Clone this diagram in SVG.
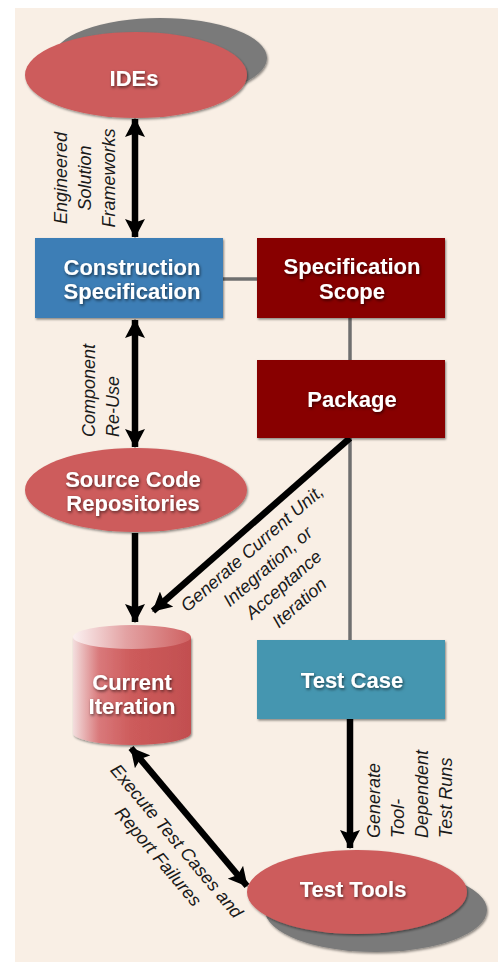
<svg xmlns="http://www.w3.org/2000/svg" width="498" height="963" viewBox="0 0 498 963">
  <defs>
    <style>
      .title { font-family: "Liberation Sans", Arial, sans-serif; font-weight: bold; font-size: 22px; fill: #ffffff; text-anchor: middle; filter: url(#txtShadow); }
      .label { font-family: "Liberation Sans", Arial, sans-serif; font-style: italic; font-size: 18px; fill: #1a1a1a; }
      .red { fill: #cd5b5b; }
      .shade { fill: #7a7a7a; }
      .link { stroke: #6f6f6f; stroke-width: 3.5; fill: none; }
      .flow { stroke: #000000; stroke-width: 6.5; fill: none; }
      .one { marker-end: url(#head); }
      .two { marker-start: url(#tail); marker-end: url(#head); }
    </style>
    <filter id="txtShadow" x="-20%" y="-40%" width="140%" height="180%">
      <feDropShadow dx="1" dy="1.5" stdDeviation="1.5" flood-color="#000000" flood-opacity="0.6"/>
    </filter>
    <filter id="boxShadow" x="-10%" y="-10%" width="125%" height="130%">
      <feDropShadow dx="1" dy="1.5" stdDeviation="1.2" flood-color="#000000" flood-opacity="0.45"/>
    </filter>
    <filter id="soft" x="-10%" y="-10%" width="120%" height="120%">
      <feGaussianBlur stdDeviation="0.6"/>
    </filter>
    <marker id="head" viewBox="0 0 20 20" refX="18" refY="10" markerWidth="20" markerHeight="20" markerUnits="userSpaceOnUse" orient="auto">
      <path d="M0,0 L3.5,10 L0,20 L19,10 Z" fill="#000000"/>
    </marker>
    <marker id="tail" viewBox="0 0 20 20" refX="2" refY="10" markerWidth="20" markerHeight="20" markerUnits="userSpaceOnUse" orient="auto">
      <path d="M20,0 L16.5,10 L20,20 L1,10 Z" fill="#000000"/>
    </marker>
    <linearGradient id="cylBody" x1="0" y1="0" x2="1" y2="0">
      <stop offset="0" stop-color="#f3dede"/>
      <stop offset="0.22" stop-color="#d9797b"/>
      <stop offset="0.5" stop-color="#cd5b5b"/>
      <stop offset="1" stop-color="#c24f50"/>
    </linearGradient>
    <linearGradient id="cylTop" x1="0" y1="0" x2="1" y2="0">
      <stop offset="0" stop-color="#fbf1f1"/>
      <stop offset="0.45" stop-color="#e3a2a3"/>
      <stop offset="1" stop-color="#cf6262"/>
    </linearGradient>
  </defs>

  <!-- panel -->
  <rect x="0" y="0" width="498" height="963" fill="#ffffff"/>
  <rect x="15" y="8" width="483" height="954" fill="#f9efe5"/>

  <!-- connectors -->
  <g id="connectors">
    <line class="link" x1="223" y1="279" x2="257" y2="279"/>
    <line class="link" x1="350" y1="318" x2="350" y2="360"/>
    <line class="link" x1="350" y1="438" x2="350" y2="640"/>
    <g filter="url(#soft)">
      <line class="flow two" x1="135" y1="119" x2="135" y2="237"/>
      <line class="flow two" x1="135" y1="320" x2="135" y2="447"/>
      <line class="flow one" x1="135" y1="533" x2="135" y2="622"/>
      <line class="flow one" x1="350" y1="438" x2="153" y2="611"/>
      <line class="flow one" x1="350" y1="719" x2="350" y2="848"/>
      <line class="flow two" x1="131" y1="748" x2="247" y2="886"/>
    </g>
    <text class="label" transform="translate(67,178) rotate(-90)" text-anchor="middle"><tspan x="0" y="0">Engineered</tspan><tspan x="0" y="24">Solution</tspan><tspan x="0" y="48">Frameworks</tspan></text>
    <text class="label" transform="translate(95,437) rotate(-90)"><tspan x="0" y="0">Component</tspan><tspan x="0" y="24">Re-Use</tspan></text>
    <text class="label" transform="translate(256,553) rotate(-41)" text-anchor="middle"><tspan x="0" y="0">Generate Current Unit,</tspan><tspan x="0" y="24">Integration, or</tspan><tspan x="0" y="48">Acceptance</tspan><tspan x="0" y="72">Iteration</tspan></text>
    <text class="label" transform="translate(380,838) rotate(-90)"><tspan x="0" y="0">Generate</tspan><tspan x="0" y="24">Tool-</tspan><tspan x="0" y="48">Dependent</tspan><tspan x="0" y="72">Test Runs</tspan></text>
    <text class="label" transform="translate(172,845) rotate(50)" text-anchor="middle"><tspan x="0" y="0">Execute Test Cases and</tspan><tspan x="0" y="24">Report Failures</tspan></text>
  </g>

  <!-- IDEs -->
  <g id="ides">
    <ellipse class="shade" cx="160" cy="58" rx="107" ry="40" filter="url(#boxShadow)"/>
    <ellipse class="red" cx="136" cy="75" rx="111" ry="43" filter="url(#boxShadow)"/>
    <text class="title" x="134" y="86">IDEs</text>
  </g>

  <!-- Construction Specification -->
  <g id="construction-spec">
    <rect x="35" y="238" width="188" height="80" fill="#3d7eb6" filter="url(#boxShadow)"/>
    <text class="title" x="132" y="275">Construction</text>
    <text class="title" x="132" y="299">Specification</text>
  </g>

  <!-- Specification Scope -->
  <g id="spec-scope">
    <rect x="257" y="238" width="188" height="80" fill="#880000" filter="url(#boxShadow)"/>
    <text class="title" x="352" y="274">Specification</text>
    <text class="title" x="352" y="299">Scope</text>
  </g>

  <!-- Package -->
  <g id="package">
    <rect x="257" y="360" width="188" height="78" fill="#880000" filter="url(#boxShadow)"/>
    <text class="title" x="352" y="407">Package</text>
  </g>

  <!-- Source Code Repositories -->
  <g id="source-repos">
    <ellipse class="red" cx="136" cy="490" rx="111" ry="42" filter="url(#boxShadow)"/>
    <text class="title" x="133" y="487">Source Code</text>
    <text class="title" x="133" y="511">Repositories</text>
  </g>

  <!-- Current Iteration -->
  <g id="current-iteration">
    <path d="M73,637 L73,733 A59,12 0 0 0 191,733 L191,637 Z" fill="url(#cylBody)" filter="url(#boxShadow)"/>
    <ellipse cx="132" cy="637" rx="59" ry="12" fill="url(#cylTop)"/>
    <text class="title" x="132" y="690">Current</text>
    <text class="title" x="132" y="714">Iteration</text>
  </g>

  <!-- Test Case -->
  <g id="test-case">
    <rect x="257" y="640" width="188" height="79" fill="#4596b0" filter="url(#boxShadow)"/>
    <text class="title" x="352" y="688">Test Case</text>
  </g>

  <!-- Test Tools -->
  <g id="test-tools">
    <ellipse class="shade" cx="376" cy="910" rx="111" ry="42" filter="url(#boxShadow)"/>
    <ellipse class="red" cx="357" cy="892" rx="110" ry="42" filter="url(#boxShadow)"/>
    <text class="title" x="353" y="897">Test Tools</text>
  </g>
</svg>
